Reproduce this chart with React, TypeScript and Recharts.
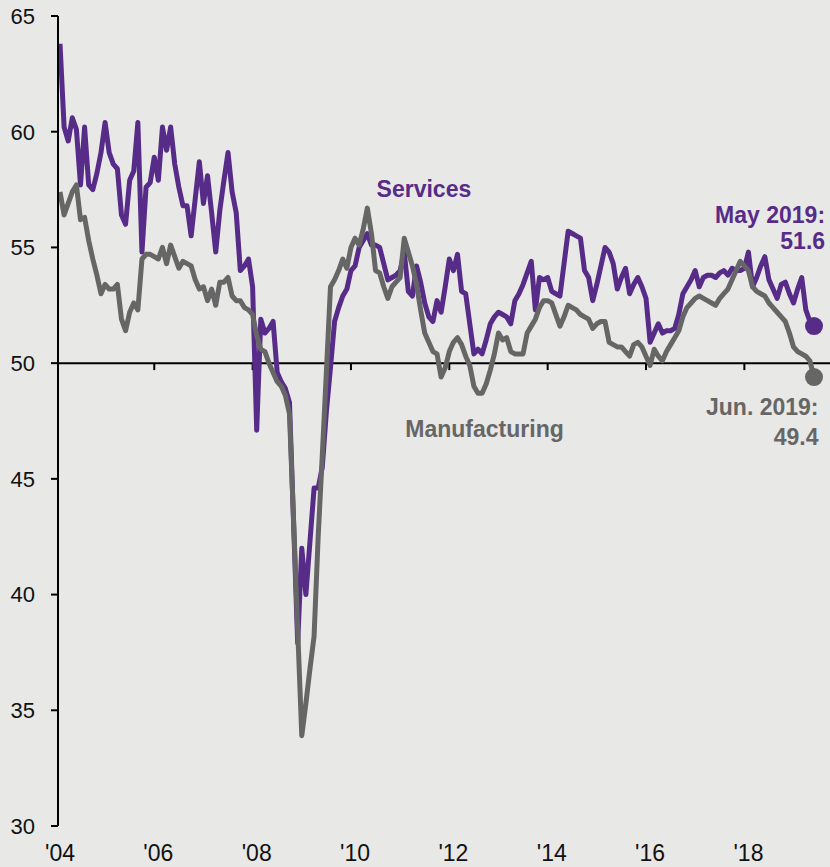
import { ComposedChart, Line, XAxis, YAxis, ReferenceLine, ReferenceDot } from 'recharts'

// monthly index values, Jan 2004 onwards (services ends May 2019, manufacturing Jun 2019)
const services = [
  63.8, 60.2, 59.6, 60.6, 60.1, 57.7, 60.2, 57.7, 57.5, 58.2, 59.1, 60.4,
  59.1, 58.6, 58.4, 56.4, 56.0, 57.9, 58.3, 60.4, 54.8, 57.6, 57.8, 58.9,
  57.9, 60.2, 59.2, 60.2, 58.6, 57.6, 56.8, 56.8, 55.5, 57.1, 58.7, 56.9,
  58.1, 56.5, 54.8, 56.6, 57.9, 59.1, 57.4, 56.5, 54.0, 54.2, 54.5, 53.3,
  47.1, 51.9, 51.3, 51.5, 51.8, 49.6, 49.2, 48.9, 48.3, 43.1, 37.9, 42.0,
  40.0, 42.3, 44.6, 44.6, 45.5, 47.9, 49.8, 51.8, 52.4, 52.9, 53.2, 54.0,
  54.2, 55.0, 55.3, 55.6, 55.1, 55.1, 55.0, 54.3, 53.6, 53.7, 53.8, 54.0,
  54.8, 53.1, 52.9, 54.2, 53.5, 52.6, 52.0, 51.8, 52.7, 52.2, 53.3, 54.5,
  54.0, 54.7, 53.1, 53.0, 51.7, 50.4, 50.6, 50.4, 51.0, 51.7, 52.0, 52.2,
  52.1, 52.0, 51.7, 52.7, 53.0, 53.4, 53.9, 54.4, 52.3, 53.7, 53.6, 53.7,
  53.1, 53.0, 52.9, 54.3, 55.7, 55.6, 55.5, 55.4, 54.0, 53.7, 52.7, 53.4,
  54.2, 55.0, 54.8, 54.3, 53.2, 53.7, 54.1, 53.0, 53.4, 53.7, 53.3, 52.8,
  50.9, 51.3, 51.7, 51.3, 51.4, 51.4, 51.5, 52.1, 53.0, 53.3, 53.6, 54.0,
  53.3, 53.7, 53.8, 53.8, 53.7, 53.9, 54.0, 53.8, 54.1, 54.0, 54.0, 54.1,
  54.8, 53.3, 53.7, 54.2, 54.6, 53.6, 53.2, 52.8, 53.4, 53.5, 53.0, 52.6,
  53.2, 53.7, 52.3, 51.8, 51.6,
]

const manufacturing = [
  57.4, 56.4, 56.9, 57.4, 57.7, 56.2, 56.3, 55.3, 54.5, 53.8, 53.0, 53.4,
  53.2, 53.2, 53.4, 51.9, 51.4, 52.2, 52.6, 52.3, 54.5, 54.7, 54.7, 54.6,
  54.5, 55.0, 54.3, 55.1, 54.6, 54.1, 54.4, 54.3, 54.2, 53.6, 53.2, 53.3,
  52.7, 53.2, 52.5, 53.5, 53.5, 53.7, 52.9, 52.7, 52.7, 52.4, 52.3, 52.1,
  51.2, 50.6, 50.5, 50.0, 49.6, 49.2, 49.0, 48.6, 47.8, 43.2, 38.5, 33.9,
  35.3, 36.8, 38.2, 42.5, 46.0, 49.6, 53.3, 53.6, 54.0, 54.5, 54.1, 55.0,
  55.4, 55.1, 55.8, 56.7, 55.6, 54.0, 53.9, 53.3, 52.8, 53.3, 53.5, 53.7,
  55.4, 54.8, 54.2, 53.4, 52.3, 51.3, 50.9, 50.5, 50.4, 49.4, 49.8, 50.5,
  50.9, 51.1, 50.8, 50.3, 49.9, 49.0, 48.7, 48.7, 49.1, 49.7, 50.4, 51.3,
  51.0, 51.1, 50.5, 50.4, 50.4, 50.4, 51.3, 51.6, 51.9, 52.4, 52.7, 52.7,
  52.6, 52.1, 51.6, 52.0, 52.5, 52.4, 52.3, 52.1, 52.0, 51.9, 51.5, 51.7,
  51.8, 51.8, 50.9, 50.8, 50.7, 50.7, 50.5, 50.3, 50.8, 50.9, 50.7, 50.3,
  49.9, 50.6, 50.3, 50.1, 50.5, 50.8, 51.1, 51.4, 52.0, 52.4, 52.6, 52.8,
  52.9, 52.8, 52.7, 52.6, 52.5, 52.8, 53.0, 53.2, 53.6, 54.0, 54.4, 54.2,
  54.0, 53.3, 53.1, 53.0, 52.9, 52.6, 52.4, 52.2, 52.0, 51.8, 51.3, 50.7,
  50.5, 50.4, 50.3, 50.1, 49.4,
]

const yearLabels = ["'04", "'06", "'08", "'10", "'12", "'14", "'16", "'18"]
const yearLabelIdx = [0, 24, 48, 72, 96, 120, 144, 168]
const yearTickIdx = [23, 47, 71, 95, 119, 143, 167]
const yTicks = [30, 35, 40, 45, 50, 55, 60, 65]

const PURPLE = '#572b88'
const GREY = '#666666'

const data = services.map((s, i) => ({ i, services: s, manufacturing: manufacturing[i] }))
const last = services.length - 1

// text drawn at a data point
const note = (text: string, color: string, anchor: 'start' | 'middle' | 'end') => (p: any) => (
  <text x={p.cx} y={p.cy} textAnchor={anchor} dominantBaseline="central"
    fill={color} fontSize={23} fontWeight="bold">{text}</text>
)

export default function App() {
  return (
    <div style={{ position: 'absolute', left: 0, top: 0, width: 830, height: 867, background: '#e8e8e6' }}>
      <ComposedChart width={830} height={867} data={data}
        margin={{ top: 16, right: 0, bottom: 0, left: 0 }}
        style={{ fontFamily: '"Liberation Sans", Arial, sans-serif' }}>
        <XAxis type="number" dataKey="i" domain={[-0.49, 187.9]} ticks={yearLabelIdx}
          tickFormatter={(v) => yearLabels[yearLabelIdx.indexOf(v)]}
          axisLine={false} tickLine={false} tickSize={6} tickMargin={13} height={41}
          tick={{ fill: '#111', fontSize: 23 }} interval={0} allowDataOverflow />
        <YAxis type="number" domain={[30, 65]} ticks={yTicks} width={58} interval={0}
          tickSize={7} tickMargin={16}
          axisLine={{ stroke: '#000', strokeWidth: 2 }}
          tickLine={{ stroke: '#000', strokeWidth: 2 }}
          tick={{ fill: '#111', fontSize: 22 }} />
        <ReferenceLine y={50} stroke="#000" strokeWidth={2} />
        {yearTickIdx.map((t) => (
          <ReferenceLine key={t} segment={[{ x: t, y: 50 }, { x: t, y: 49.7 }]} stroke="#000" strokeWidth={2} />
        ))}
        <Line type="linear" dataKey="services" stroke={PURPLE} strokeWidth={5} dot={false}
          strokeLinejoin="round" isAnimationActive={false} />
        <Line type="linear" dataKey="manufacturing" stroke={GREY} strokeWidth={5} dot={false}
          strokeLinejoin="round" isAnimationActive={false} />
        <ReferenceDot x={last} y={services[last]} r={9} fill={PURPLE} stroke="none" />
        <ReferenceDot x={last} y={manufacturing[last]} r={9} fill={GREY} stroke="none" />

        <ReferenceDot x={88.8} y={57.53} r={1} shape={note('Services', PURPLE, 'middle')} />
        <ReferenceDot x={103.6} y={47.16} r={1} shape={note('Manufacturing', GREY, 'middle')} />
        <ReferenceDot x={186.7} y={56.41} r={1} ifOverflow="visible" shape={note('May 2019:', PURPLE, 'end')} />
        <ReferenceDot x={186.7} y={55.26} r={1} ifOverflow="visible" shape={note(`${services[last]}`, PURPLE, 'end')} />
        <ReferenceDot x={185.1} y={48.09} r={1} ifOverflow="visible" shape={note('Jun. 2019:', GREY, 'end')} />
        <ReferenceDot x={185.1} y={46.79} r={1} ifOverflow="visible" shape={note(`${manufacturing[last]}`, GREY, 'end')} />
      </ComposedChart>
    </div>
  )
}
